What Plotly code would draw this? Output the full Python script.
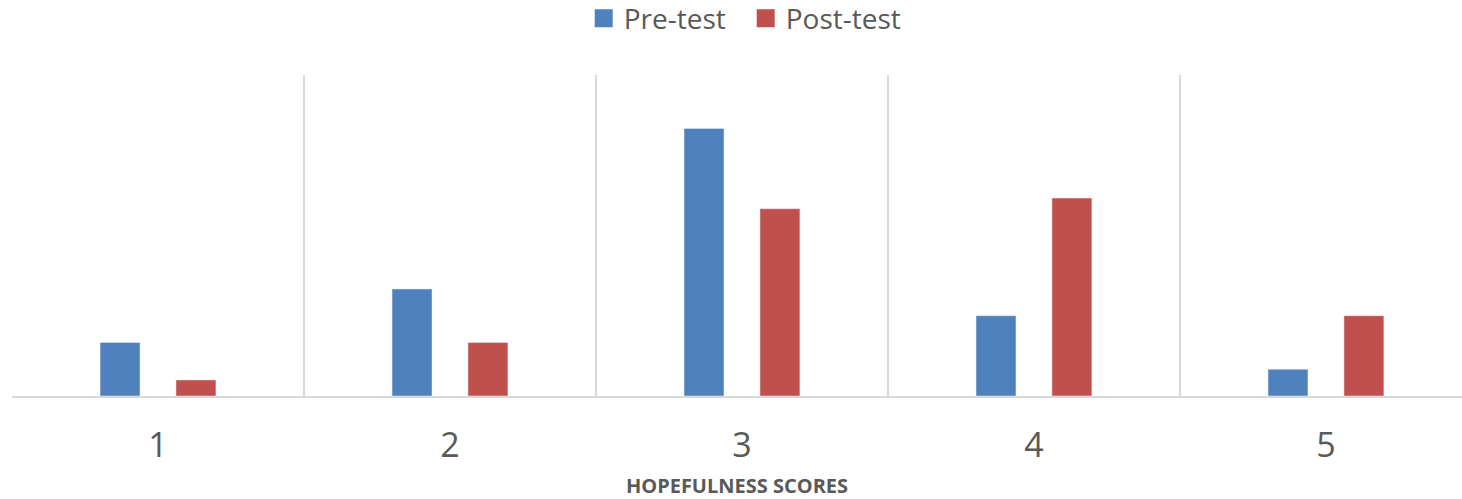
import plotly.graph_objects as go

categories = ["1", "2", "3", "4", "5"]
pre_test = [2, 4, 10, 3, 1]
post_test = [0.6, 2, 7, 7.4, 3]
x_title = "HOPEFULNESS SCORES"
BLUE, RED = "#4F81BD", "#C0504D"

fig = go.Figure()
fig.add_bar(name="Pre-test", x=categories, y=pre_test, marker_color=BLUE, legendgroup="pre", showlegend=False)
fig.add_bar(name="Post-test", x=categories, y=post_test, marker_color=RED, legendgroup="post", showlegend=False)
# legend keys: square swatches larger than Plotly's fixed bar key
for name, col, grp in [("Pre-test", BLUE, "pre"), ("Post-test", RED, "post")]:
    fig.add_scatter(name=name, x=[None], y=[None], mode="markers", legendgroup=grp,
                    marker=dict(symbol="square", size=16, color=col, line=dict(width=2, color=col)))

W, H = 1462, 499
left, top, bottom = 12, 75, 396.5
fig.update_layout(
    width=W, height=H, autosize=False,
    margin=dict(l=left, r=0, t=top, b=H - bottom, pad=0, autoexpand=False),
    paper_bgcolor="white", plot_bgcolor="white",
    barmode="group", bargap=0.48, bargroupgap=0.474,
    font=dict(family="Open Sans", color="#595959"),
    legend=dict(orientation="h", x=0.506, xanchor="center", y=1.2535, yanchor="top",
                font=dict(size=28), traceorder="normal", itemwidth=30, entrywidth=117, tracegroupgap=0),
    showlegend=True,
)
fig.update_xaxes(
    type="category", range=[-0.5, 4.466], tickson="boundaries", ticks="",
    showgrid=True, gridcolor="#D9D9D9", gridwidth=2,
    showline=True, linecolor="#D9D9D9", linewidth=2,
    tickfont=dict(size=34, color="#595959"), ticklabelstandoff=18,
    title=dict(text=x_title, font=dict(size=20, color="#595959", family="Open Sans", weight="bold"), standoff=24),
    automargin=False,
)
fig.update_yaxes(range=[0, 12], showgrid=False, showticklabels=False, zeroline=False, ticks="")
fig.write_html("out.html", config=dict(displayModeBar=False), post_script="document.body.style.margin='0';")
